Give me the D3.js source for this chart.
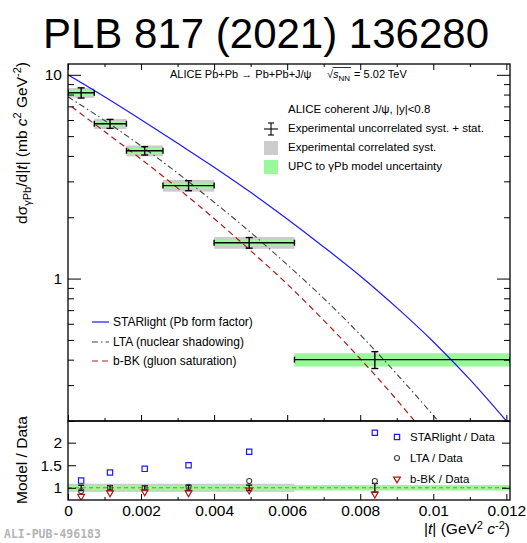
<!DOCTYPE html>
<html>
<head>
<meta charset="utf-8">
<script src="https://cdn.jsdelivr.net/npm/d3@7"></script>
<style>
  body { margin: 0; background: #fff; }
  svg { font-family: "Liberation Sans", Arial, Helvetica, sans-serif; }
</style>
</head>
<body>
<svg width="527" height="543"></svg>
<script>
// ---- data ----
const tLow  = [0, 0.00072, 0.0016, 0.0026, 0.004, 0.0062];
const tHigh = [0.00072, 0.0016, 0.0026, 0.004, 0.0062, 0.015];
const tMean = [0.00036, 0.00115, 0.0021, 0.0033, 0.00496, 0.0084];
const sigma    = [8.16, 5.75, 4.24, 2.86, 1.50, 0.40];
const statErr  = [0.47, 0.29, 0.20, 0.16, 0.09, 0.038];
const corrErr  = [0.45, 0.33, 0.26, 0.19, 0.10, 0.025];
const modelErr = [0.26, 0.17, 0.14, 0.09, 0.05, 0.03];

// model curves
const starT = [0, 0.001, 0.002, 0.003, 0.004, 0.005, 0.006, 0.007, 0.008, 0.009, 0.010, 0.011, 0.012];
const starV = [10.0, 7.80, 6.02, 4.61, 3.52, 2.65, 1.96, 1.43, 1.03, 0.72, 0.49, 0.32, 0.20];
const ltaT  = [0, 0.001, 0.002, 0.003, 0.004, 0.005, 0.006, 0.007, 0.008, 0.009, 0.010, 0.011];
const ltaV  = [7.80, 5.97, 4.48, 3.29, 2.37, 1.685, 1.17, 0.80, 0.53, 0.34, 0.213, 0.13];
const bbkT  = [0.0001, 0.001, 0.002, 0.003, 0.004, 0.005, 0.006, 0.007, 0.008, 0.009, 0.010];
const bbkV  = [6.97, 5.27, 3.86, 2.78, 1.97, 1.37, 0.94, 0.624, 0.404, 0.254, 0.155];

// ratios model / data
const starRatio = [1.16, 1.34, 1.42, 1.50, 1.80, 2.22];
const ltaRatio  = [0.93, 1.00, 1.00, 1.02, 1.15, 1.15];
const bbkRatio  = [0.81, 0.89, 0.91, 0.89, 0.95, 0.86];
const ratioCorr  = [0.09, 0.09, 0.09, 0.09, 0.09, 0.05];
const ratioModel = [0.06, 0.06, 0.06, 0.06, 0.06, 0.06];

const xMajor = [0, 0.002, 0.004, 0.006, 0.008, 0.010, 0.012];
const xMinor = [0.001, 0.003, 0.005, 0.007, 0.009, 0.011];
const yMajor = [1, 10];
const yMinor = [0.2, 0.3, 0.4, 0.5, 0.6, 0.7, 0.8, 0.9, 2, 3, 4, 5, 6, 7, 8, 9];
const rMajor = [1, 1.5, 2];

// ---- layout ----
const svg = d3.select('svg');
const pLeft = 68, pRight = 510, pTop = 64, pSplit = 421, pBottom = 500;
const fs = 15.5;

const x  = d3.scaleLinear().domain([0, 0.0121]).range([pLeft, pRight]);
const y  = d3.scaleLog().domain([0.2, 11.3]).range([pSplit, pTop]);
const yr = d3.scaleLinear().domain([0.73, 2.48]).range([pBottom, pSplit]);

const defs = svg.append('defs');
defs.append('clipPath').attr('id', 'clipMain')
  .append('rect').attr('x', pLeft).attr('y', pTop).attr('width', pRight - pLeft).attr('height', pSplit - pTop);
defs.append('clipPath').attr('id', 'clipRatio')
  .append('rect').attr('x', pLeft).attr('y', pSplit).attr('width', pRight - pLeft).attr('height', pBottom - pSplit);

// title
svg.append('text')
  .attr('x', 266).attr('y', 48)
  .attr('text-anchor', 'middle')
  .attr('font-size', 42)
  .text('PLB 817 (2021) 136280');

// ---- main panel ----
const gMain = svg.append('g').attr('clip-path', 'url(#clipMain)');
const bins = d3.range(sigma.length);

gMain.selectAll('rect.corr').data(bins).enter().append('rect')
  .attr('x', i => x(tLow[i]))
  .attr('width', i => x(tHigh[i]) - x(tLow[i]))
  .attr('y', i => y(sigma[i] + corrErr[i]))
  .attr('height', i => y(sigma[i] - corrErr[i]) - y(sigma[i] + corrErr[i]))
  .attr('fill', '#cccccc');

gMain.selectAll('rect.model').data(bins).enter().append('rect')
  .attr('x', i => x(tLow[i]))
  .attr('width', i => x(tHigh[i]) - x(tLow[i]))
  .attr('y', i => y(sigma[i] + modelErr[i]))
  .attr('height', i => y(sigma[i] - modelErr[i]) - y(sigma[i] + modelErr[i]))
  .attr('fill', '#99f899');

const curve = (ts, vs) => d3.line()
  .x((d, i) => x(ts[i]))
  .y(d => y(d))
  .curve(d3.curveCatmullRom.alpha(0.5))(vs);

gMain.append('path').attr('d', curve(starT, starV))
  .attr('fill', 'none').attr('stroke', '#1a1aff').attr('stroke-width', 1.2);
gMain.append('path').attr('d', curve(ltaT, ltaV))
  .attr('fill', 'none').attr('stroke', '#444').attr('stroke-width', 1.1)
  .attr('stroke-dasharray', '6,3,1.5,3');
gMain.append('path').attr('d', curve(bbkT, bbkV))
  .attr('fill', 'none').attr('stroke', '#b01818').attr('stroke-width', 1.2)
  .attr('stroke-dasharray', '6,4');

// error bars
const eb = gMain.append('g').attr('stroke', '#000').attr('stroke-width', 1.4);
bins.forEach(i => {
  const yc = y(sigma[i]);
  const x0 = x(tLow[i]), x1 = Math.min(x(tHigh[i]), pRight), xc = x(tMean[i]);
  eb.append('line').attr('x1', x0).attr('x2', x1).attr('y1', yc).attr('y2', yc);
  eb.append('line').attr('x1', x0).attr('x2', x0).attr('y1', yc - 3).attr('y2', yc + 3);
  eb.append('line').attr('x1', x1).attr('x2', x1).attr('y1', yc - 3).attr('y2', yc + 3);
  const ya = y(sigma[i] + statErr[i]), yb = y(sigma[i] - statErr[i]);
  eb.append('line').attr('x1', xc).attr('x2', xc).attr('y1', ya).attr('y2', yb);
  eb.append('line').attr('x1', xc - 3.5).attr('x2', xc + 3.5).attr('y1', ya).attr('y2', ya);
  eb.append('line').attr('x1', xc - 3.5).attr('x2', xc + 3.5).attr('y1', yb).attr('y2', yb);
});

// ---- ratio panel ----
const gRatio = svg.append('g').attr('clip-path', 'url(#clipRatio)');
gRatio.selectAll('rect.rc').data(bins).enter().append('rect')
  .attr('x', i => x(tLow[i]))
  .attr('width', i => x(tHigh[i]) - x(tLow[i]))
  .attr('y', i => yr(1 + ratioCorr[i]))
  .attr('height', i => yr(1 - ratioCorr[i]) - yr(1 + ratioCorr[i]))
  .attr('fill', '#cccccc');
gRatio.selectAll('rect.rm').data(bins).enter().append('rect')
  .attr('x', i => x(tLow[i]))
  .attr('width', i => x(tHigh[i]) - x(tLow[i]))
  .attr('y', i => yr(1 + ratioModel[i]))
  .attr('height', i => yr(1 - ratioModel[i]) - yr(1 + ratioModel[i]))
  .attr('fill', '#99f899');
gRatio.append('line')
  .attr('x1', pLeft).attr('x2', pRight).attr('y1', yr(1)).attr('y2', yr(1))
  .attr('stroke', '#e0602a').attr('stroke-width', 1.1).attr('stroke-dasharray', '4,3');

const rb = gRatio.append('g').attr('stroke', '#000').attr('stroke-width', 1.3);
bins.forEach(i => {
  const xc = x(tMean[i]);
  const e = statErr[i] / sigma[i];
  const ya = yr(1 + e), yb = yr(1 - e);
  rb.append('line').attr('x1', xc).attr('x2', xc).attr('y1', ya).attr('y2', yb);
  rb.append('line').attr('x1', xc - 3).attr('x2', xc + 3).attr('y1', ya).attr('y2', ya);
  rb.append('line').attr('x1', xc - 3).attr('x2', xc + 3).attr('y1', yb).attr('y2', yb);
});

const sq = d3.symbol().type(d3.symbolSquare).size(28);
const ci = d3.symbol().type(d3.symbolCircle).size(20);
const tri = d3.symbol().type(d3.symbolTriangle).size(20);

gRatio.selectAll('path.star').data(bins).enter().append('path')
  .attr('d', sq).attr('transform', i => `translate(${x(tMean[i])},${yr(starRatio[i])})`)
  .attr('fill', 'none').attr('stroke', '#1a1aff').attr('stroke-width', 1.2);
gRatio.selectAll('path.lta').data(bins).enter().append('path')
  .attr('d', ci).attr('transform', i => `translate(${x(tMean[i])},${yr(ltaRatio[i])})`)
  .attr('fill', 'none').attr('stroke', '#444').attr('stroke-width', 1.1);
gRatio.selectAll('path.bbk').data(bins).enter().append('path')
  .attr('d', tri).attr('transform', i => `translate(${x(tMean[i])},${yr(bbkRatio[i])}) rotate(180)`)
  .attr('fill', 'none').attr('stroke', '#c01010').attr('stroke-width', 1.2);

// ---- axes ----
const styleAxis = g => {
  g.select('.domain').remove();
  g.selectAll('.tick line').attr('stroke', '#000').attr('stroke-width', 1);
  g.selectAll('.tick text').attr('font-size', fs).attr('fill', '#000')
    .attr('font-family', '"Liberation Sans", Arial, Helvetica, sans-serif');
};
const xFmt = d => d === 0 ? '0' : String(+d.toFixed(3));

// main panel x ticks (top and bottom, no labels)
svg.append('g').attr('transform', `translate(0,${pSplit})`)
  .call(d3.axisBottom(x).tickValues(xMajor).tickSize(-6).tickFormat('')).call(styleAxis);
svg.append('g').attr('transform', `translate(0,${pSplit})`)
  .call(d3.axisBottom(x).tickValues(xMinor).tickSize(-3).tickFormat('')).call(styleAxis);
svg.append('g').attr('transform', `translate(0,${pTop})`)
  .call(d3.axisTop(x).tickValues(xMajor).tickSize(-6).tickFormat('')).call(styleAxis);
svg.append('g').attr('transform', `translate(0,${pTop})`)
  .call(d3.axisTop(x).tickValues(xMinor).tickSize(-3).tickFormat('')).call(styleAxis);

// ratio x axis
svg.append('g').attr('transform', `translate(0,${pBottom})`)
  .call(d3.axisBottom(x).tickValues(xMajor).tickSize(-6).tickPadding(5).tickFormat(xFmt)).call(styleAxis);
svg.append('g').attr('transform', `translate(0,${pBottom})`)
  .call(d3.axisBottom(x).tickValues(xMinor).tickSize(-3).tickFormat('')).call(styleAxis);

// main y axes
svg.append('g').attr('transform', `translate(${pLeft},0)`)
  .call(d3.axisLeft(y).tickValues(yMajor).tickSize(-13).tickPadding(6).tickFormat(d3.format('d'))).call(styleAxis);
svg.append('g').attr('transform', `translate(${pLeft},0)`)
  .call(d3.axisLeft(y).tickValues(yMinor).tickSize(-6).tickFormat('')).call(styleAxis);
svg.append('g').attr('transform', `translate(${pRight},0)`)
  .call(d3.axisRight(y).tickValues(yMajor).tickSize(-13).tickFormat('')).call(styleAxis);
svg.append('g').attr('transform', `translate(${pRight},0)`)
  .call(d3.axisRight(y).tickValues(yMinor).tickSize(-6).tickFormat('')).call(styleAxis);

// ratio y axes
svg.append('g').attr('transform', `translate(${pLeft},0)`)
  .call(d3.axisLeft(yr).tickValues(rMajor).tickSize(-8).tickPadding(6).tickFormat(d => String(d))).call(styleAxis);
svg.append('g').attr('transform', `translate(${pRight},0)`)
  .call(d3.axisRight(yr).tickValues(rMajor).tickSize(-8).tickFormat('')).call(styleAxis);

// frames
svg.append('rect').attr('x', pLeft).attr('y', pTop).attr('width', pRight - pLeft).attr('height', pSplit - pTop)
  .attr('fill', 'none').attr('stroke', '#000').attr('stroke-width', 1.3);
svg.append('rect').attr('x', pLeft).attr('y', pSplit).attr('width', pRight - pLeft).attr('height', pBottom - pSplit)
  .attr('fill', 'none').attr('stroke', '#000').attr('stroke-width', 1.3);

// ---- header text ----
const lf = 11.5;
svg.append('text').attr('x', 170).attr('y', 78).attr('font-size', 11)
  .text('ALICE Pb+Pb \u2192 Pb+Pb+J/\u03c8');
const rootT = svg.append('text').attr('x', 327).attr('y', 78).attr('font-size', 11).text('\u221a');
const rw = rootT.node().getComputedTextLength();
const sT = svg.append('text').attr('x', 327 + rw).attr('y', 78).attr('font-size', 11);
sT.append('tspan').attr('font-style', 'italic').text('s');
sT.append('tspan').attr('font-size', 8).attr('dy', 2.5).text('NN');
const sw = sT.node().getComputedTextLength();
svg.append('line').attr('x1', 327 + rw - 0.5).attr('x2', 327 + rw + sw + 1)
  .attr('y1', 67.5).attr('y2', 67.5).attr('stroke', '#000').attr('stroke-width', 0.8);
svg.append('text').attr('x', 327 + rw + sw + 4).attr('y', 78).attr('font-size', 11).text('= 5.02 TeV');

// ---- upper-right legend ----
svg.append('text').attr('x', 288).attr('y', 113).attr('font-size', lf)
  .text('ALICE coherent J/\u03c8, |y|<0.8');
const legR = [
  { y: 132, label: 'Experimental uncorrelated syst. + stat.' },
  { y: 151, label: 'Experimental correlated syst.' },
  { y: 170, label: 'UPC to \u03b3Pb model uncertainty' }
];
legR.forEach(d => svg.append('text').attr('x', 288).attr('y', d.y).attr('font-size', lf).text(d.label));
const lg = svg.append('g').attr('stroke', '#000').attr('stroke-width', 1.1);
lg.append('line').attr('x1', 264).attr('x2', 278).attr('y1', 129).attr('y2', 129);
lg.append('line').attr('x1', 271).attr('x2', 271).attr('y1', 123).attr('y2', 135);
lg.append('line').attr('x1', 268).attr('x2', 274).attr('y1', 123).attr('y2', 123);
lg.append('line').attr('x1', 268).attr('x2', 274).attr('y1', 135).attr('y2', 135);
svg.append('rect').attr('x', 264).attr('y', 141).attr('width', 14).attr('height', 14).attr('fill', '#cccccc');
svg.append('rect').attr('x', 264).attr('y', 160).attr('width', 14).attr('height', 14).attr('fill', '#99f899');

// ---- lower-left legend ----
const legL = [
  { y: 322, label: 'STARlight (Pb form factor)', stroke: '#1a1aff', dash: null },
  { y: 342, label: 'LTA (nuclear shadowing)', stroke: '#444', dash: '6,3,1.5,3' },
  { y: 361, label: 'b-BK (gluon saturation)', stroke: '#b01818', dash: '6,4' }
];
legL.forEach(d => {
  svg.append('line').attr('x1', 92).attr('x2', 109).attr('y1', d.y).attr('y2', d.y)
    .attr('stroke', d.stroke).attr('stroke-width', 1.2).attr('stroke-dasharray', d.dash);
  svg.append('text').attr('x', 113).attr('y', d.y + 4).attr('font-size', 12).text(d.label);
});

// ---- ratio legend ----
const legRatio = [
  { y: 437, label: 'STARlight / Data', sym: sq, stroke: '#1a1aff', rot: 0 },
  { y: 458, label: 'LTA / Data', sym: ci, stroke: '#444', rot: 0 },
  { y: 479, label: 'b-BK / Data', sym: tri, stroke: '#c01010', rot: 180 }
];
legRatio.forEach(d => {
  svg.append('path').attr('d', d.sym).attr('transform', `translate(397,${d.y}) rotate(${d.rot})`)
    .attr('fill', 'none').attr('stroke', d.stroke).attr('stroke-width', 1.2);
  svg.append('text').attr('x', 410).attr('y', d.y + 4).attr('font-size', lf).text(d.label);
});

// ---- axis titles ----
const yt = svg.append('text').attr('transform', 'translate(27,62) rotate(-90)')
  .attr('text-anchor', 'end').attr('font-size', fs);
yt.append('tspan').text('d\u03c3');
yt.append('tspan').attr('font-size', 11).attr('dy', 4).text('\u03b3Pb');
yt.append('tspan').attr('dy', -4).text('/d|');
yt.append('tspan').attr('font-style', 'italic').text('t');
yt.append('tspan').text('| (mb ');
yt.append('tspan').attr('font-style', 'italic').text('c');
yt.append('tspan').attr('font-size', 11).attr('dy', -6).text('2');
yt.append('tspan').attr('dy', 6).text(' GeV');
yt.append('tspan').attr('font-size', 11).attr('dy', -6).text('-2');
yt.append('tspan').attr('dy', 6).text(')');

svg.append('text').attr('transform', 'translate(27,460) rotate(-90)')
  .attr('text-anchor', 'middle').attr('font-size', fs).text('Model / Data');

const xt = svg.append('text').attr('x', 510).attr('y', 534)
  .attr('text-anchor', 'end').attr('font-size', fs);
xt.append('tspan').text('|');
xt.append('tspan').attr('font-style', 'italic').text('t');
xt.append('tspan').text('| (GeV');
xt.append('tspan').attr('font-size', 11).attr('dy', -5).text('2');
xt.append('tspan').attr('dy', 5).text(' ');
xt.append('tspan').attr('font-style', 'italic').text('c');
xt.append('tspan').attr('font-size', 11).attr('dy', -5).text('-2');
xt.append('tspan').attr('dy', 5).text(')');

svg.append('text').attr('x', 4).attr('y', 538)
  .attr('font-family', '"DejaVu Sans Mono", monospace').attr('font-weight', 'bold')
  .attr('font-size', 11.5).attr('fill', '#b4b4b4').text('ALI-PUB-496183');
</script>
</body>
</html>
